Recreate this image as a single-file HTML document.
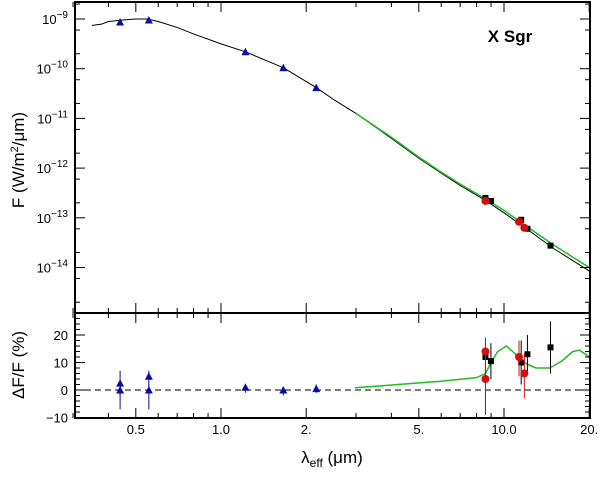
<!DOCTYPE html>
<html><head><meta charset="utf-8"><style>
body{margin:0;background:#fff}
svg text{font-family:"Liberation Sans",sans-serif;fill:#000}
</style></head><body>
<svg id="c" width="600" height="474" xmlns="http://www.w3.org/2000/svg"></svg>
<script>
const photLam=[0.44,0.556,1.22,1.66,2.17];
const photLogF=[-9.06,-9.02,-9.66,-9.98,-10.38];
const sqLam=[8.6,8.99,11.5,12.1,14.6];
const sqLogF=[-12.6,-12.66,-13.04,-13.22,-13.56];
const cirLam=[8.6,11.3,11.8];
const cirLogF=[-12.66,-13.08,-13.2];
const modelLam=[0.35,0.38,0.4,0.45,0.5,0.55,0.6,0.7,0.8,1.0,1.22,1.66,2.17,2.5,3,4,5,6,7,8.6,10,12,15,20];
const modelLogF=[-9.13,-9.1,-9.05,-9.02,-9.0,-9.0,-9.05,-9.17,-9.3,-9.5,-9.66,-9.98,-10.38,-10.62,-10.9,-11.4,-11.8,-12.1,-12.35,-12.65,-12.9,-13.22,-13.62,-14.07];
const greenLam=[3,4,5,6,7,8.6,10,12,15,20];
const greenLogF=[-10.9,-11.38,-11.78,-12.08,-12.32,-12.62,-12.85,-13.17,-13.55,-14.0];
const resPhotLam=[0.44,0.44,0.556,0.556,1.22,1.66,2.17];
const resPhot=[2.5,0,5,0,1,0,0.5];
const resPhotLo=[-2,-7,0,-7,-1,-2,-1];
const resPhotHi=[7,2,7,2,2,1,2];
const resSqLam=[8.6,8.99,11.5,12.1,14.6];
const resSq=[12,10.5,10,13,15.5];
const resSqLo=[5,4,2,6,6];
const resSqHi=[19,17,18,20,25];
const resCirLam=[8.6,8.6,11.3,11.8];
const resCir=[14,4,12,6];
const resCirLo=[-9,-9,5,-3];
const resCirHi=[19,19,18,13];
const resGreenLam=[2.97,4,6,8,8.6,9,9.5,10.2,11,12,13,14.5,16,17.5,18.5,20];
const resGreen=[0.8,1.8,3.2,4.5,6,10,14,16,13,9.5,8,8,10.5,14,14.5,12];
const xTicks=[0.5,1.0,2,5,10,20];
const xTickLabels=["0.5","1.0","2.","5.","10.0","20."];
const yExps=[-9,-10,-11,-12,-13,-14];
const resTicks=[20,10,0,-10];

const L=75,R=590,T=2,M=313,B=418;
const X=l=>221+283*Math.log10(l);
const Y=lf=>19+(-9-lf)*49.7;
const YR=v=>390-v*2.75;
const s=document.getElementById('c');const NS="http://www.w3.org/2000/svg";
function el(t,a,p){const e=document.createElementNS(NS,t);for(const k in a)e.setAttribute(k,a[k]);(p||s).appendChild(e);return e;}
function poly(xs,ys,fx,fy,col,w,name){const g=el('polyline',{points:xs.map((x,i)=>fx(x)+','+fy(ys[i])).join(' '),fill:'none',stroke:col,'stroke-width':w,'stroke-linejoin':'round'});}
function tri(x,y,name){const e=el('polygon',{points:`${x-4},${y+3.5} ${x+4},${y+3.5} ${x},${y-4}`,fill:'#0a0aa8'});}
function sq(x,y,name){const e=el('rect',{x:x-3,y:y-3,width:6,height:6,fill:'#000'});}
function cir(x,y,name){const e=el('circle',{cx:x,cy:y,r:4,fill:'#d01010'});}
function txt(x,y,t,a){const e=el('text',Object.assign({x,y},a||{}));e.textContent=t;return e;}
// upper
poly(modelLam,modelLogF,X,Y,'#000',1,'model-line');
poly(greenLam,greenLogF,X,Y,'#22bb22',1.5,'green-model-line');
photLam.forEach((l,i)=>tri(X(l),Y(photLogF[i]),'photometry-point'));
sqLam.forEach((l,i)=>sq(X(l),Y(sqLogF[i]),'square-point'));
cirLam.forEach((l,i)=>cir(X(l),Y(cirLogF[i]),'circle-point'));
// lower
const z=el('line',{x1:L,x2:R,y1:YR(0),y2:YR(0),stroke:'#000','stroke-dasharray':'6,4','stroke-width':1});
poly(resGreenLam,resGreen,X,YR,'#22bb22',1.5,'green-residual-line');
function eb(l,lo,hi,col){const e=el('line',{x1:X(l),x2:X(l),y1:YR(lo),y2:YR(hi),stroke:col,'stroke-width':1});}
resPhotLam.forEach((l,i)=>{eb(l,resPhotLo[i],resPhotHi[i],'#0a0aa8');tri(X(l),YR(resPhot[i]),'residual-triangle');});
resSqLam.forEach((l,i)=>{eb(l,resSqLo[i],resSqHi[i],'#000');sq(X(l),YR(resSq[i]),'residual-square');});
resCirLam.forEach((l,i)=>{eb(l,resCirLo[i],resCirHi[i],'#d01010');cir(X(l),YR(resCir[i]),'residual-circle');});
// frames
[[T,M,'upper-frame'],[M,B,'lower-frame']].forEach(f=>{const e=el('rect',{x:L,y:f[0],width:R-L,height:f[1]-f[0],fill:'none',stroke:'#000','stroke-width':2});});
// x ticks
for(let d=-1;d<=1;d++)for(let m=1;m<10;m++){const l=m*Math.pow(10,d);if(l<0.3||l>20)continue;const x=X(l);const big=xTicks.includes(l);const h=big?10:5;
[[B,-1],[M,-1],[M,1],[T,1]].forEach(p=>el('line',{x1:x,x2:x,y1:p[0],y2:p[0]+p[1]*h,stroke:'#000','stroke-width':1}));}
xTicks.forEach((l,i)=>{const t=txt(X(l),434,xTickLabels[i],{'font-size':13,'text-anchor':'middle'});});
// y ticks upper
for(let e=-9;e>=-15;e--)for(let m=1;m<10;m+= (m==1?1:4)){const lf=e+Math.log10(m);const y=Y(lf);if(y<T||y>M)continue;const h=m==1?10:5;
el('line',{x1:L,x2:L+h,y1:y,y2:y,stroke:'#000'});el('line',{x1:R,x2:R-h,y1:y,y2:y,stroke:'#000'});}
yExps.forEach(e=>{const t=el('text',{x:68,y:Y(e)+5,'font-size':13,'text-anchor':'end'});t.innerHTML=`10<tspan dy="-6" font-size="10">${'\u2212'+(-e)}</tspan>`;});
// residual ticks
for(let v=-10;v<=28;v+=2){const y=YR(v);const h=v%10==0?10:5;el('line',{x1:L,x2:L+h,y1:y,y2:y,stroke:'#000'});el('line',{x1:R,x2:R-h,y1:y,y2:y,stroke:'#000'});}
resTicks.forEach(v=>{const t=txt(68,YR(v)+5,v<0?'\u2212'+(-v):String(v),{'font-size':13,'text-anchor':'end'});});
// labels
let t=el('text',{x:0,y:0,'font-size':17,'text-anchor':'middle',transform:'translate(24,160) rotate(-90)'});t.innerHTML='F (W/m<tspan dy="-6" font-size="11">2</tspan><tspan dy="6">/\u03bcm)</tspan>';
t=el('text',{x:0,y:0,'font-size':17,'text-anchor':'middle',transform:'translate(24,365) rotate(-90)'});t.textContent='\u0394F/F (%)';
t=el('text',{x:332,y:463,'font-size':17,'text-anchor':'middle'});t.innerHTML='\u03bb<tspan dy="4" font-size="12">eff</tspan><tspan dy="-4"> (\u03bcm)</tspan>';
t=txt(510,42,'X Sgr',{'font-size':17,'font-weight':'bold','text-anchor':'middle'});
</script>
</body></html>
